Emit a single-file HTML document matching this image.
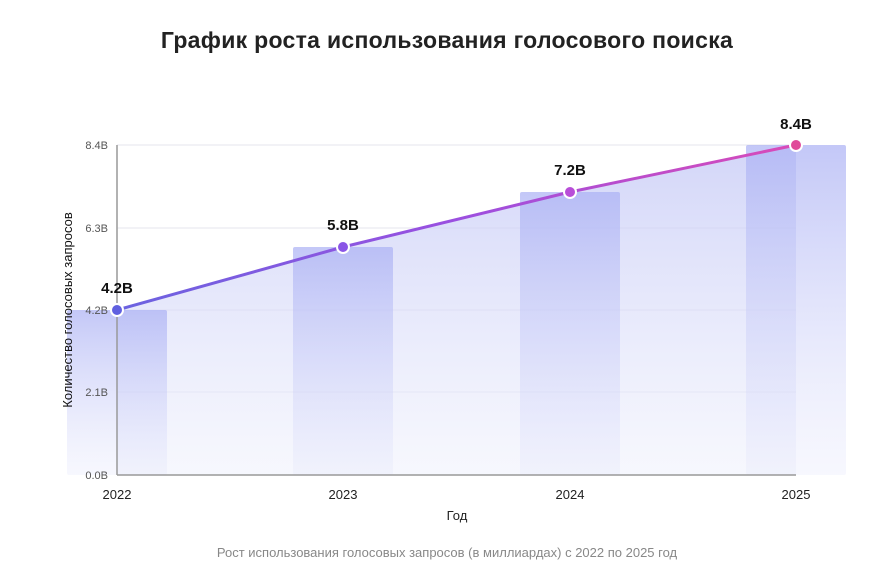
<!DOCTYPE html>
<html><head><meta charset="utf-8"><style>
body{margin:0;background:#fff;width:888px;height:576px;overflow:hidden;font-family:"Liberation Sans","DejaVu Sans",sans-serif}
</style></head><body>
<svg width="888" height="576" xmlns="http://www.w3.org/2000/svg" font-family="'Liberation Sans','DejaVu Sans',sans-serif">
<defs>
<linearGradient id="area" x1="0" y1="0" x2="0" y2="1">
<stop offset="0" stop-color="#c4c8f6" stop-opacity="0.75"/>
<stop offset="1" stop-color="#eef0fc" stop-opacity="0.5"/>
</linearGradient>
<linearGradient id="bar" x1="0" y1="0" x2="0" y2="1">
<stop offset="0" stop-color="#aab0f4" stop-opacity="0.7"/>
<stop offset="1" stop-color="#e4e6fb" stop-opacity="0.3"/>
</linearGradient>
<linearGradient id="ln" x1="0" y1="0" x2="1" y2="0">
<stop offset="0" stop-color="#6b63e0"/>
<stop offset="0.5" stop-color="#9b4fe0"/>
<stop offset="1" stop-color="#d94ab8"/>
</linearGradient>
</defs>
<text x="447" y="48" text-anchor="middle" font-size="23" font-weight="bold" fill="#222" letter-spacing="0.3">График роста использования голосового поиска</text>
<g stroke="#e6e6ee" stroke-width="1">
<line x1="117" y1="145" x2="796" y2="145"/>
<line x1="117" y1="228" x2="796" y2="228"/>
<line x1="117" y1="310" x2="796" y2="310"/>
<line x1="117" y1="392" x2="796" y2="392"/>
</g>
<polygon points="117,310 343,247 570,192 796,145 796,475 117,475" fill="url(#area)"/>
<rect x="67" y="310" width="100" height="165" rx="2" fill="url(#bar)"/>
<rect x="293" y="247" width="100" height="228" rx="2" fill="url(#bar)"/>
<rect x="520" y="192" width="100" height="283" rx="2" fill="url(#bar)"/>
<rect x="746" y="145" width="100" height="330" rx="2" fill="url(#bar)"/>
<line x1="117" y1="145" x2="117" y2="475" stroke="#999" stroke-width="1.5"/>
<line x1="117" y1="475" x2="796" y2="475" stroke="#999" stroke-width="1.5"/>
<g font-size="11" fill="#555" text-anchor="end">
<text x="108" y="149">8.4B</text>
<text x="108" y="232">6.3B</text>
<text x="108" y="314">4.2B</text>
<text x="108" y="396">2.1B</text>
<text x="108" y="479">0.0B</text>
</g>
<g font-size="13" fill="#222" text-anchor="middle">
<text x="117" y="499">2022</text>
<text x="343" y="499">2023</text>
<text x="570" y="499">2024</text>
<text x="796" y="499">2025</text>
<text x="457" y="520">Год</text>
</g>
<text transform="translate(72,310) rotate(-90)" text-anchor="middle" font-size="13" fill="#111">Количество голосовых запросов</text>
<polyline points="117,310 343,247 570,192 796,145" fill="none" stroke="url(#ln)" stroke-width="3"/>
<g stroke="#fff" stroke-width="2">
<circle cx="117" cy="310" r="6" fill="#6060e0"/>
<circle cx="343" cy="247" r="6" fill="#8a55e6"/>
<circle cx="570" cy="192" r="6" fill="#b84ed8"/>
<circle cx="796" cy="145" r="6" fill="#e04a9a"/>
</g>
<g font-size="15" font-weight="bold" fill="#111" text-anchor="middle">
<text x="117" y="293">4.2B</text>
<text x="343" y="230">5.8B</text>
<text x="570" y="175">7.2B</text>
<text x="796" y="129">8.4B</text>
</g>
<text x="447" y="557" text-anchor="middle" font-size="13" fill="#888">Рост использования голосовых запросов (в миллиардах) с 2022 по 2025 год</text>
</svg>
</body></html>
